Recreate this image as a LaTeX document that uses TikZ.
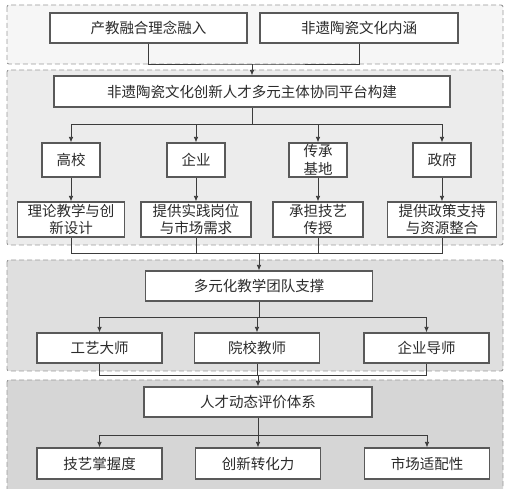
\documentclass[tikz,border=0pt]{standalone}
\usepackage{fontspec}
\setmainfont{Noto Sans CJK SC}
\usepackage{tikz}
\usetikzlibrary{positioning}
\usetikzlibrary{calc}
\usetikzlibrary{arrows.meta}

\definecolor{grpA}{HTML}{F6F6F6}
\definecolor{grpB}{HTML}{ECECEC}
\definecolor{grpC}{HTML}{DFDFDF}
\definecolor{grpD}{HTML}{D6D6D6}
\definecolor{boxline}{HTML}{595959}
\definecolor{dashline}{HTML}{9A9A9A}
\definecolor{linkc}{HTML}{3C3C3C}
\definecolor{txt}{HTML}{2B2B2B}

\begin{document}
\begin{tikzpicture}[
    x=1pt, y=-1pt,
    >={Latex[length=5.5pt,width=4.5pt]},
    every node/.style={font=\fontsize{14.5}{17.5}\selectfont, text=txt},
    box/.style={draw=boxline, line width=1.1pt, fill=white, inner sep=0pt, align=center, minimum height=30pt},
    party/.style={box, minimum width=58pt, minimum height=34pt},
    role/.style={box, minimum height=35pt},
    member/.style={box, minimum width=125pt},
    group/.style={draw=dashline, dash pattern=on 5pt off 3pt, line width=0.9pt, rounded corners=2pt},
    link/.style={draw=linkc, line width=0.8pt}
]
\clip (0,0) rectangle (507,489);
\filldraw[group, fill=grpA] (7,5) rectangle (503,64);
\filldraw[group, fill=grpB] (7,70) rectangle (503,245);
\filldraw[group, fill=grpC] (7,260) rectangle (503,371);
\filldraw[group, fill=grpD] (7,380) rectangle (503,495);

\node[box, minimum width=197pt] (idea) at (148.5,28) {产教融合理念融入};
\node[box, minimum width=198pt] (culture) at (359,28) {非遗陶瓷文化内涵};
\node[box, minimum width=396pt, minimum height=31pt] (platform) at (252,91.5) {非遗陶瓷文化创新人才多元主体协同平台构建};

\node[party] (univ) at (71,160) {高校};
\node[party] (firm) at (196,160) {企业};
\node[party] (base) at (318,160) {传承\\基地};
\node[party] (gov) at (442,160) {政府};

\node[role, minimum width=107pt] (theory) at (71,219.5) {理论教学与创\\新设计};
\node[role, minimum width=110pt] (practice) at (196,219.5) {提供实践岗位\\与市场需求};
\node[role, minimum width=90pt] (craft) at (318,219.5) {承担技艺\\传授};
\node[role, minimum width=109pt] (policy) at (442,219.5) {提供政策支持\\与资源整合};

\node[box, minimum width=227pt] (team) at (259,286) {多元化教学团队支撑};
\node[member] (master) at (99.5,348) {工艺大师};
\node[member] (teacher) at (257,348) {院校教师};
\node[member] (mentor) at (426.5,348) {企业导师};

\node[box, minimum width=228pt] (eval) at (258,402) {人才动态评价体系};
\node[member, minimum height=31pt] (skill) at (99.5,463.5) {技艺掌握度};
\node[member, minimum height=31pt] (innov) at (258,463.5) {创新转化力};
\node[member, minimum height=31pt] (market) at (427,463.5) {市场适配性};

\coordinate (j1) at (252,64);
\coordinate (j2) at (252,124);
\coordinate (j3) at (259,253);
\coordinate (j4) at (259,317);
\coordinate (j5) at (258,375);
\coordinate (j6) at (258,435);

\draw[link] (idea.south) |- (j1) -| (culture.south);
\draw[link, ->] (j1) -- (platform.north);
\draw[link] (platform.south) -- (j2);
\foreach \n in {univ,firm,base,gov}
    \draw[link, ->] (j2) -| (\n.north);
\foreach \a/\b in {univ/theory, firm/practice, base/craft, gov/policy}
    \draw[link, ->] (\a.south) -- (\b.north);
\foreach \n in {theory,practice,craft,policy}
    \draw[link] (\n.south) |- (j3);
\draw[link, ->] (j3) -- (team.north);
\draw[link] (team.south) -- (j4);
\foreach \n in {master,teacher,mentor}
    \draw[link, ->] (j4) -| (\n.north);
\foreach \n in {master,teacher,mentor}
    \draw[link] (\n.south) |- (j5);
\draw[link, ->] (j5) -- (eval.north);
\draw[link] (eval.south) -- (j6);
\foreach \n in {skill,innov,market}
    \draw[link, ->] (j6) -| (\n.north);
\end{tikzpicture}
\end{document}
